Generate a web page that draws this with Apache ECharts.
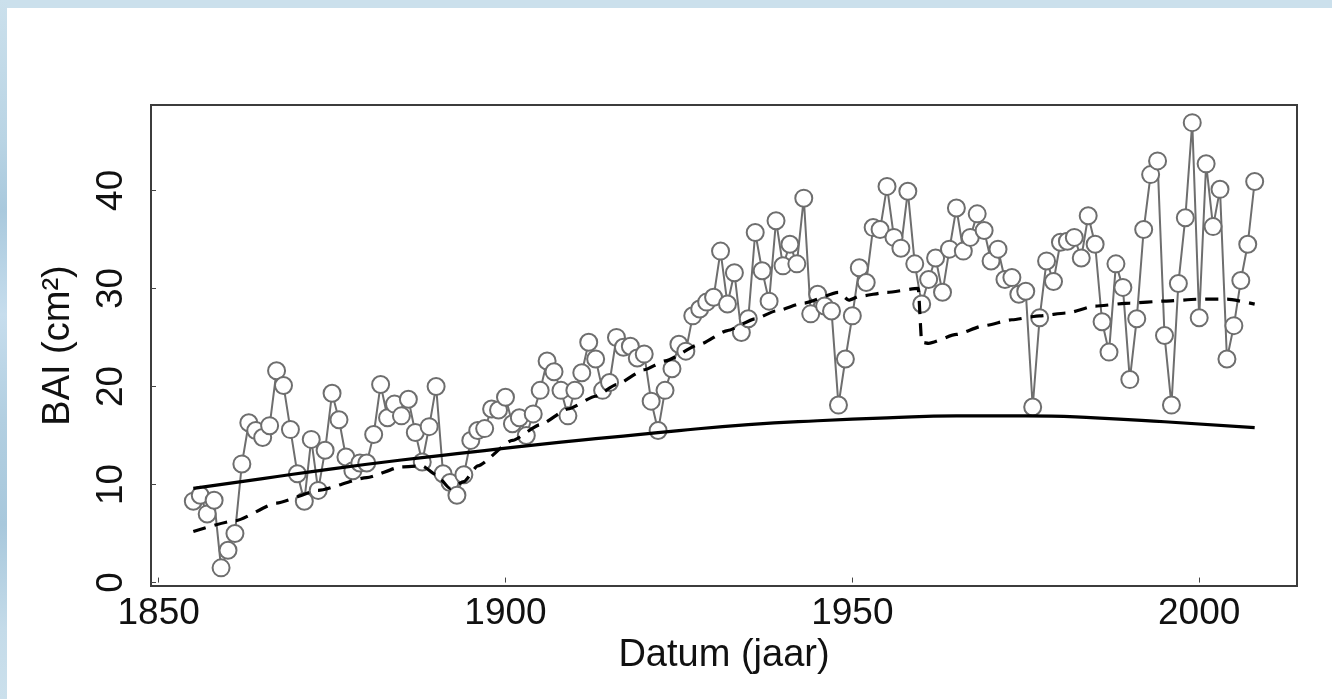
<!DOCTYPE html>
<html>
<head>
<meta charset="utf-8">
<script src="https://cdn.jsdelivr.net/npm/echarts@6/dist/echarts.min.js"></script>
<style>
  html, body { margin: 0; padding: 0; background: #fff; }
  .strip-top { position: absolute; left: 0; top: 0; width: 1332px; height: 8px; background: #cbe0ec; }
  .strip-left { position: absolute; left: 0; top: 0; width: 7px; height: 699px;
    background: linear-gradient(#cbe0ec 0%, #b9d4e4 20%, #a9c9dd 30%, #c6dded 45%, #b2cfe1 60%, #a8c8dc 75%, #c4dbe9 90%, #cbe0ec 100%); }
  #chart { position: absolute; left: 0; top: 0; width: 1332px; height: 699px; }
</style>
</head>
<body>
<div class="strip-top"></div>
<div class="strip-left"></div>
<div id="chart"></div>
<script>
// BAI per jaar, 1855 - 2008
const firstYear = 1855;
const bai = [
  8.3, 8.9, 7.0, 8.4, 1.5, 3.3, 5.0, 12.1, 16.3, 15.5,
  14.8, 16.0, 21.6, 20.1, 15.6, 11.1, 8.3, 14.6, 9.4, 13.5,
  19.3, 16.6, 12.8, 11.4, 12.2, 12.2, 15.1, 20.2, 16.8, 18.2,
  17.0, 18.7, 15.3, 12.3, 15.9, 20.0, 11.1, 10.2, 8.9, 11.0,
  14.5, 15.5, 15.7, 17.7, 17.6, 18.9, 16.2, 16.8, 15.0, 17.2,
  19.6, 22.6, 21.5, 19.6, 17.0, 19.6, 21.4, 24.5, 22.8, 19.6,
  20.4, 25.0, 24.0, 24.1, 22.9, 23.3, 18.5, 15.5, 19.6, 21.8,
  24.3, 23.6, 27.2, 27.9, 28.6, 29.1, 33.8, 28.4, 31.6, 25.5,
  26.9, 35.7, 31.8, 28.7, 36.9, 32.3, 34.5, 32.5, 39.2, 27.4,
  29.4, 28.2, 27.7, 18.1, 22.8, 27.2, 32.1, 30.6, 36.2, 36.0,
  40.4, 35.2, 34.1, 39.9, 32.5, 28.4, 30.9, 33.1, 29.6, 34.0,
  38.2, 33.8, 35.2, 37.6, 35.9, 32.8, 34.0, 30.9, 31.1, 29.4,
  29.7, 17.9, 27.0, 32.8, 30.7, 34.7, 34.8, 35.2, 33.1, 37.4,
  34.5, 26.6, 23.5, 32.5, 30.1, 20.7, 26.9, 36.0, 41.6, 43.0,
  25.2, 18.1, 30.5, 37.2, 46.9, 27.0, 42.7, 36.3, 40.1, 22.8,
  26.2, 30.8, 34.5, 40.9
];

const solidYears = [1855, 1865, 1875, 1885, 1895, 1905, 1915, 1925, 1935, 1945, 1955, 1965, 1975, 1985, 1995, 2008];
const solidFit = [9.6, 10.6, 11.6, 12.5, 13.3, 14.1, 14.8, 15.5, 16.1, 16.5, 16.8, 17.0, 17.0, 16.8, 16.4, 15.8];

const dashYears = [1855, 1861, 1867, 1873, 1880, 1885, 1888, 1890, 1892, 1894, 1896,
  1901, 1905, 1909, 1913, 1916, 1920, 1923, 1928, 1932, 1936, 1939, 1943, 1948,
  1949.5, 1951, 1955, 1959.5, 1960, 1961, 1965, 1969, 1973, 1977, 1981, 1985,
  1990, 1995, 2000, 2004, 2008];
const dashFit = [5.2, 6.3, 8.1, 9.4, 10.7, 11.8, 11.9, 11.0, 9.6, 10.3, 11.9,
  14.5, 16.1, 17.7, 19.0, 20.2, 21.7, 22.6, 24.3, 25.7, 26.9, 27.7, 28.5, 29.6,
  28.8, 29.2, 29.6, 30.0, 24.5, 24.4, 25.3, 26.2, 26.8, 27.2, 27.5, 28.2,
  28.5, 28.7, 28.9, 28.9, 28.4];

const xTicks = [1850, 1900, 1950, 2000];
const yTicks = [0, 10, 20, 30, 40];

const years = bai.map((v, i) => firstYear + i);
const font = "'Liberation Sans', Arial, sans-serif";

const chart = echarts.init(document.getElementById("chart"), null, { renderer: "canvas" });
chart.setOption({
  animation: false,
  grid: {
    left: 151, right: 35, top: 105, bottom: 113,
    show: true, borderColor: "#3c3c3c", borderWidth: 2, backgroundColor: "transparent"
  },
  xAxis: {
    type: "value",
    min: 1848.9, max: 2014.1,
    name: "Datum (jaar)", nameLocation: "middle", nameGap: 48,
    nameTextStyle: { fontSize: 38, color: "#111", fontFamily: font },
    axisLine: { show: false },
    splitLine: { show: false },
    axisTick: { show: true, inside: true, length: 5, customValues: xTicks, lineStyle: { color: "#444", width: 1 } },
    axisLabel: { customValues: xTicks, formatter: (v) => String(v), margin: 9, fontSize: 37, color: "#111", fontFamily: font }
  },
  yAxis: {
    type: "value",
    min: -0.35, max: 48.7,
    name: "BAI (cm²)", nameLocation: "middle", nameGap: 73, nameRotate: 90,
    nameTextStyle: { fontSize: 38, color: "#111", fontFamily: font },
    axisLine: { show: false },
    splitLine: { show: false },
    axisTick: { show: true, inside: true, length: 5, customValues: yTicks, lineStyle: { color: "#444", width: 1 } },
    axisLabel: { customValues: yTicks, formatter: (v) => String(v), rotate: 90, margin: 21, fontSize: 37, color: "#111", fontFamily: font }
  },
  series: [
    {
      type: "line",
      data: years.map((y, i) => [y, bai[i]]),
      symbol: "circle", symbolSize: 17, showSymbol: true,
      lineStyle: { color: "#6e6e6e", width: 2 },
      itemStyle: { color: "#fff", borderColor: "#6e6e6e", borderWidth: 2 },
      z: 2
    },
    {
      type: "line",
      data: solidYears.map((y, i) => [y, solidFit[i]]),
      smooth: 0.5, showSymbol: false, symbol: "none",
      lineStyle: { color: "#000", width: 3.2 },
      z: 3
    },
    {
      type: "line",
      data: dashYears.map((y, i) => [y, dashFit[i]]),
      smooth: 0.2, smoothMonotone: "x", showSymbol: false, symbol: "none",
      lineStyle: { color: "#000", width: 3.2, type: [13, 9] },
      z: 4
    }
  ]
});
</script>
</body>
</html>
